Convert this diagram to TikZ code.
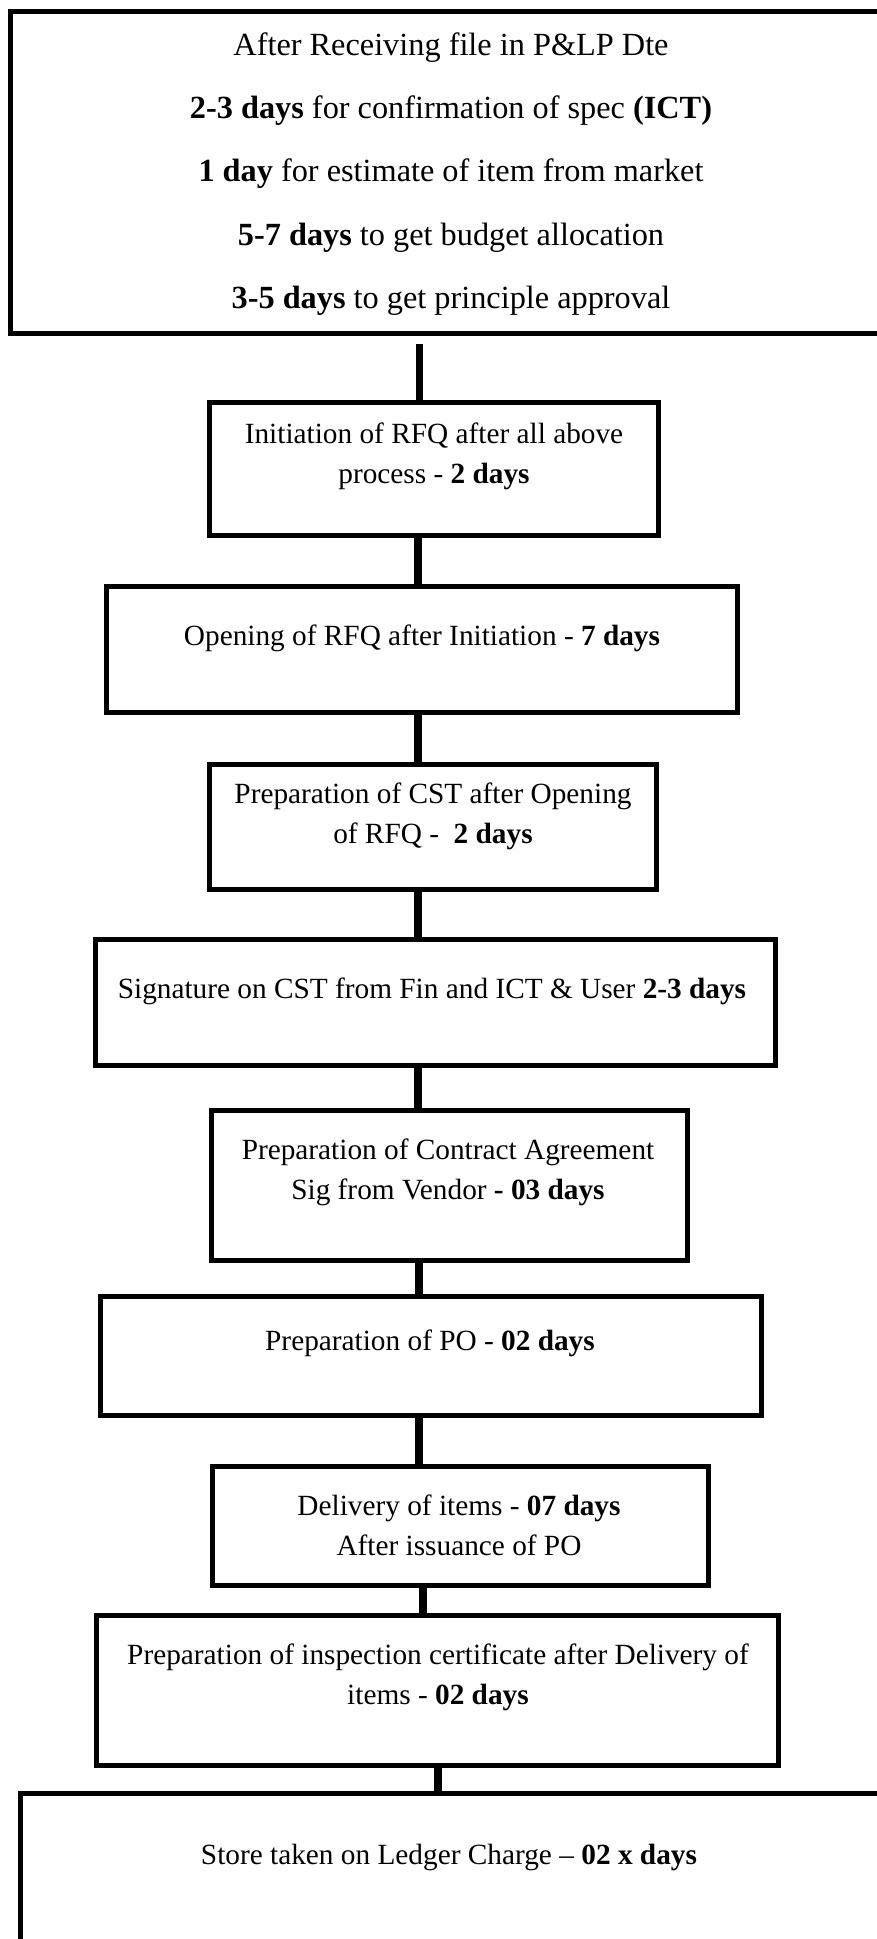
\documentclass[tikz,border=0pt]{standalone}
\usepackage{fontspec}
\setmainfont{Liberation Serif}
\begin{document}
\begin{tikzpicture}[x=1pt,y=-1pt,
  box/.style={draw, line width=5pt, inner sep=0pt, outer sep=0pt, rectangle},
  conn/.style={draw, line width=7.5pt},
  txt/.style={align=center, inner sep=0pt, font=\fontsize{29.3}{40}\selectfont},
  txtwide/.style={align=center, inner sep=0pt, font=\fontsize{32.3}{63.3}\selectfont}]
\useasboundingbox (0,0) rectangle (876,1939);
% boxes
\node[box, minimum width=880pt, minimum height=322pt] (b1) at (450,172) {};
\node[box, minimum width=449pt, minimum height=133pt] (b2) at (433.5,468.5) {};
\node[box, minimum width=631pt, minimum height=126pt] (b3) at (421.5,649) {};
\node[box, minimum width=447pt, minimum height=125pt] (b4) at (432.5,826.5) {};
\node[box, minimum width=680pt, minimum height=126pt] (b5) at (435,1002) {};
\node[box, minimum width=476pt, minimum height=150pt] (b6) at (449,1185) {};
\node[box, minimum width=661pt, minimum height=119pt] (b7) at (430.5,1355.5) {};
\node[box, minimum width=496pt, minimum height=119pt] (b8) at (460,1525.5) {};
\node[box, minimum width=682pt, minimum height=150pt] (b9) at (437,1690) {};
\node[box, minimum width=860pt, minimum height=197pt] (b10) at (450,1891.5) {};
% texts
\node[txtwide] (t1) at (451,174) {After Receiving file in P\&LP Dte\\
\textbf{2-3 days} for confirmation of spec \textbf{(ICT)}\\
\textbf{1 day} for estimate of item from market\\
\textbf{5-7 days} to get budget allocation\\
\textbf{3-5 days} to get principle approval};
\node[txt] (t2) at (434,456) {Initiation of RFQ after all above\\process - \textbf{2 days}};
\node[txt] (t3) at (422,638) {Opening of RFQ after Initiation - \textbf{7 days}};
\node[txt] (t4) at (433,816) {Preparation of CST after Opening\\of RFQ -\ \ \textbf{2 days}};
\node[txt] (t5) at (432,991) {Signature on CST from Fin and ICT \& User \textbf{2-3 days}};
\node[txt] (t6) at (448,1172) {Preparation of Contract Agreement\\Sig from Vendor \textbf{- 03 days}};
\node[txt] (t7) at (430,1343) {Preparation of PO - \textbf{02 days}};
\node[txt] (t8) at (459,1525) {Delivery of items - \textbf{07 days}\\After issuance of PO};
\node[txt] (t9) at (438,1677) {Preparation of inspection certificate after Delivery of\\items - \textbf{02 days}};
\node[txt] (t10) at (449,1857) {Store taken on Ledger Charge -- \textbf{02 x days}};
% connector positions
\coordinate (k1) at (419.5,344);
\coordinate (k2) at (418,0);
\coordinate (k3) at (418,0);
\coordinate (k4) at (418,0);
\coordinate (k5) at (418,0);
\coordinate (k6) at (419,0);
\coordinate (k7) at (419,0);
\coordinate (k8) at (423,0);
\coordinate (k9) at (438,0);
% connectors
\draw[conn] (k1) -- (b2.north -| k1);
\draw[conn] (b2.south -| k2) -- (b3.north -| k2);
\draw[conn] (b3.south -| k3) -- (b4.north -| k3);
\draw[conn] (b4.south -| k4) -- (b5.north -| k4);
\draw[conn] (b5.south -| k5) -- (b6.north -| k5);
\draw[conn] (b6.south -| k6) -- (b7.north -| k6);
\draw[conn] (b7.south -| k7) -- (b8.north -| k7);
\draw[conn] (b8.south -| k8) -- (b9.north -| k8);
\draw[conn] ([yshift=2.5pt]b9.south -| k9) -- (b10.north -| k9);
\end{tikzpicture}
\end{document}
